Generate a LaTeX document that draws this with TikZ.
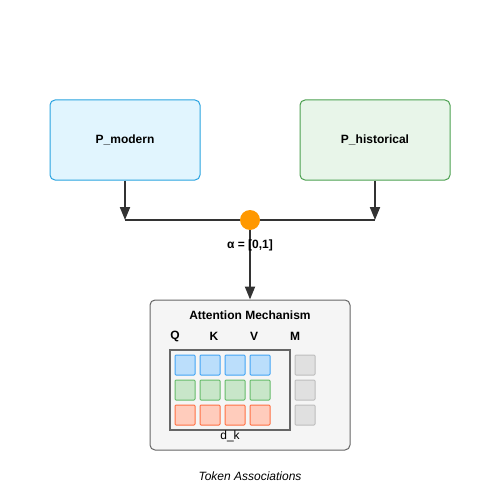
\documentclass[tikz,border=0pt]{standalone}
\usepackage{fontspec}
\setmainfont{Liberation Sans}
\usetikzlibrary{arrows.meta}
\definecolor{modfill}{HTML}{E1F5FE}
\definecolor{modline}{HTML}{29A3E0}
\definecolor{histfill}{HTML}{E8F5E9}
\definecolor{histline}{HTML}{4CA050}
\definecolor{attfill}{HTML}{F5F5F5}
\definecolor{attline}{HTML}{666666}
\definecolor{qfill}{HTML}{BBDEFB}
\definecolor{qline}{HTML}{42A5F5}
\definecolor{kfill}{HTML}{C8E6C9}
\definecolor{kline}{HTML}{66BB6A}
\definecolor{vfill}{HTML}{FFCCBC}
\definecolor{vline}{HTML}{FF7043}
\definecolor{mfill}{HTML}{E0E0E0}
\definecolor{mline}{HTML}{BDBDBD}
\definecolor{mixfill}{HTML}{FF9800}
\definecolor{wire}{HTML}{333333}
\tikzset{x=1pt,y=-1pt,
    every node/.style={font=\fontsize{12}{14}\selectfont},
    srcbox/.style={draw,rounded corners=5pt,line width=1pt,minimum width=150pt,
        minimum height=80pt,font=\bfseries\fontsize{12}{14}\selectfont},
    attbox/.style={draw=attline,fill=attfill,rounded corners=5pt,line width=1pt,
        minimum width=200pt,minimum height=150pt},
    cell/.style={draw,line width=1pt,rounded corners=1pt,minimum size=20pt,inner sep=0pt},
    lbl/.style={font=\bfseries\fontsize{12}{14}\selectfont},
    wireline/.style={draw=wire,line width=2pt},
    wirearrow/.style={wireline,-{Triangle[width=10pt,length=13pt]}}}

\begin{document}
\begin{tikzpicture}
    \useasboundingbox (0,0) rectangle (500,500);
    \node[srcbox,draw=modline,fill=modfill] (pmodern) at (125,140) {P\_modern};
    \node[srcbox,draw=histline,fill=histfill] (phist) at (375,140) {P\_historical};
    \coordinate (lj) at (125,220);
    \coordinate (rj) at (375,220);
    \draw[wirearrow] (pmodern) -- (lj);
    \draw[wirearrow] (phist) -- (rj);
    \draw[wireline] (lj) -- (rj);
    \node[attbox] (attn) at (250,375) {};
    \node[circle,fill=mixfill,minimum size=20pt,inner sep=0pt] (mix) at (250,220) {};
    \draw[wirearrow] (mix) -- (attn);
    \node[lbl] (alpha) at (250,245) {α = [0,1]};
    \node[lbl] (atitle) at (250,315) {Attention Mechanism};
    \node[lbl] (qlbl) at (175,336) {Q};
    \node[lbl] (klbl) at (214,336) {K};
    \node[lbl] (vlbl) at (254,336) {V};
    \node[lbl] (mlbl) at (295,336) {M};
    \node[draw=attline,line width=1.5pt,minimum width=120pt,minimum height=80pt] (dkbox) at (230,390) {};
    \foreach \i in {0,...,3} {
        \node[cell,draw=qline,fill=qfill] (q\i) at (185+25*\i,365) {};
        \node[cell,draw=kline,fill=kfill] (k\i) at (185+25*\i,390) {};
        \node[cell,draw=vline,fill=vfill] (v\i) at (185+25*\i,415) {};
    }
    \foreach \j in {0,1,2}
        \node[cell,draw=mline,fill=mfill] (m\j) at (305,365+25*\j) {};
    \node (dk) at (230,436) {d\_k};
    \node[font=\itshape\fontsize{12}{14}\selectfont] (caption) at (250,476) {Token Associations};
\end{tikzpicture}
\end{document}
